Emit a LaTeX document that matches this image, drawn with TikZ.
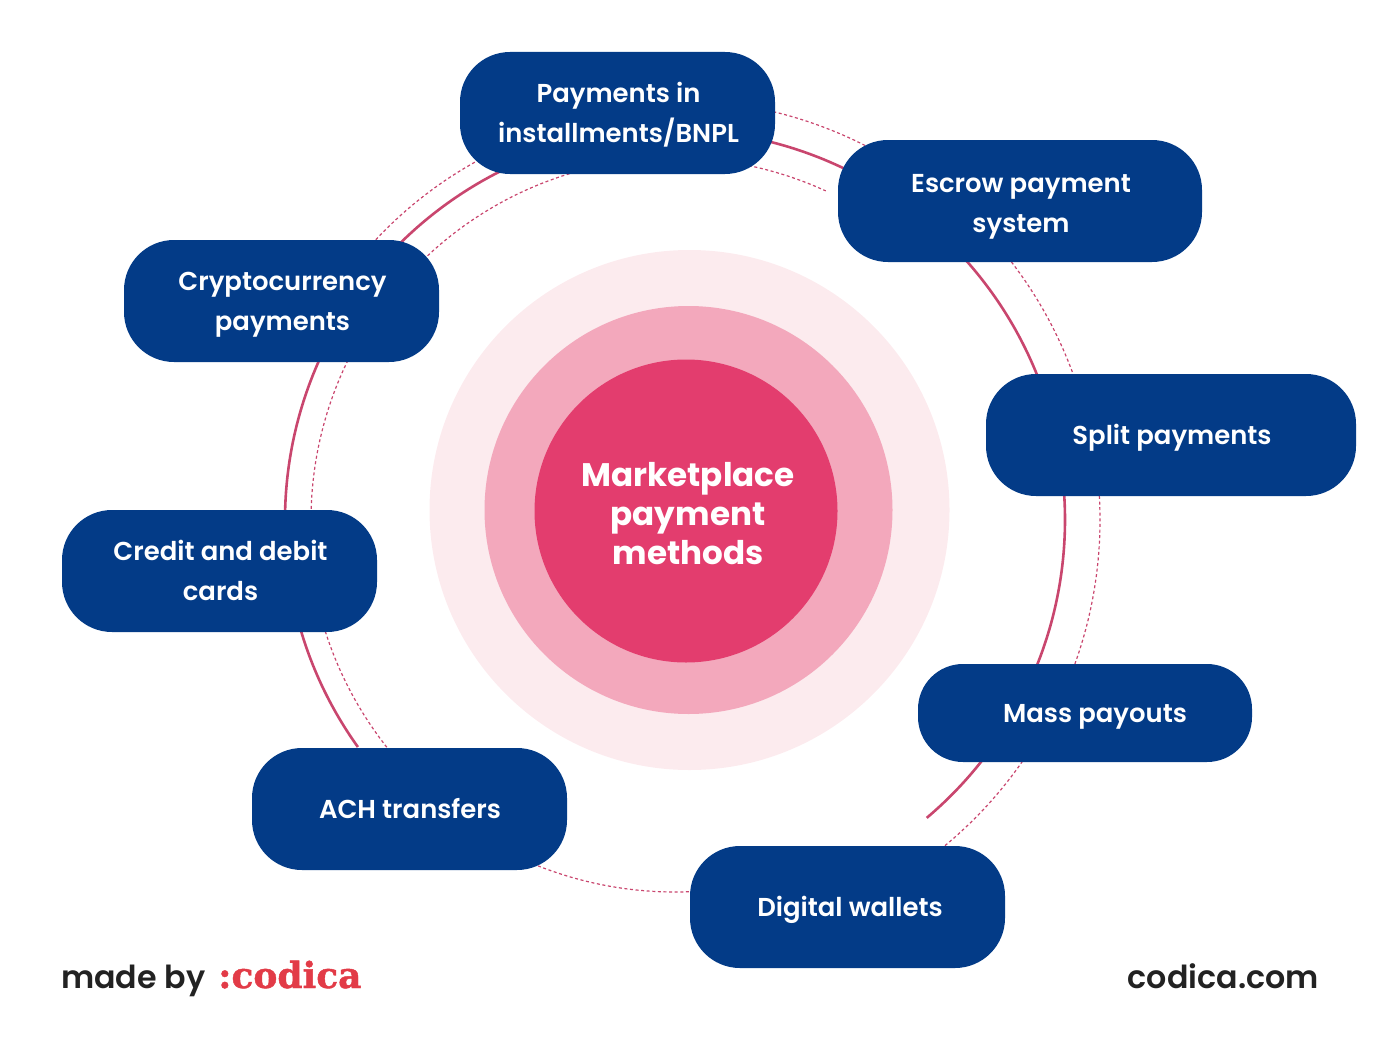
\documentclass[tikz,border=0pt]{standalone}
\usepackage{fontspec}
\setmainfont{Poppins}
\newfontfamily\fsemi{Poppins SemiBold}
\newfontfamily\fbold{Poppins Bold}
\newfontfamily\flogo[FakeBold=1.2]{DejaVu Serif Bold}
\definecolor{navy}{HTML}{033B87}
\definecolor{ringA}{HTML}{FCEBEE}
\definecolor{ringB}{HTML}{F3A8BC}
\definecolor{ringC}{HTML}{E33D6E}
\definecolor{arcline}{HTML}{C9466E}
\definecolor{inkdark}{HTML}{222222}
\definecolor{logored}{HTML}{E23B47}
\tikzset{
  box/.style={fill=navy,rounded corners=50pt,inner sep=0pt},
  boxtext/.style={text=white,align=center,inner sep=0pt,
    font=\fsemi\fontsize{25.9}{40}\selectfont},
  solidarc/.style={draw=arcline,line width=2.6pt},
  dotarc/.style={draw=arcline,line width=1.2pt,dash pattern=on 3pt off 2.6pt},
  foot/.style={inner sep=0pt,anchor=base west,font=\fsemi\fontsize{31.7}{33}\selectfont,text=inkdark},
  disc/.style={circle,inner sep=0pt},
}
\begin{document}
\begin{tikzpicture}[x=1pt,y=-1pt]
\useasboundingbox (0,0) rectangle (1380,1046);
\coordinate (c) at (675,520);
% arcs
\draw[solidarc] (c) ++(144.4:390) arc (144.4:409.8:390);
\foreach \a/\b/\r in {220/245/410, 282/299/420, 321/342/424, -4/21/425, 34/52/423,
    226/256/362, 280/294.6/362, 180/207/364, 140/164/367, 87/113/372}{
  \draw[dotarc] (c) ++(\a:\r) arc (\a:\b:\r);
}
% centre discs
\node[disc,fill=ringA,minimum size=520pt] (discA) at (689.5,510) {};
\node[disc,fill=ringB,minimum size=408pt] (discB) at (688.5,510) {};
\node[disc,fill=ringC,minimum size=303pt] (discC) at (686,511) {};
\node[text=white,align=center,inner sep=0pt,font=\fbold\fontsize{32.6}{39}\selectfont] (title) at (688,514) {Marketplace\\payment\\methods};
% boxes
\node[box,minimum width=315pt,minimum height=122pt] (pay) at (617.5,113) {};
\node[boxtext] (payt) at (618.5,115) {Payments in\\installments/BNPL};
\node[box,minimum width=364pt,minimum height=122pt] (esc) at (1020,201) {};
\node[boxtext] (esct) at (1021,207) {Escrow payment\\system};
\node[box,minimum width=315pt,minimum height=122pt] (cry) at (281.5,301) {};
\node[boxtext] (cryt) at (282.5,305) {Cryptocurrency\\payments};
\node[box,minimum width=370pt,minimum height=122pt] (spl) at (1171,435) {};
\node[boxtext] (splt) at (1172,438) {Split payments};
\node[box,minimum width=315pt,minimum height=122pt] (cre) at (219.5,571) {};
\node[boxtext] (cret) at (220.5,570) {Credit and debit\\cards};
\node[box,minimum width=334pt,minimum height=98pt,rounded corners=45pt] (mas) at (1085,713) {};
\node[boxtext] (mast) at (1095,717) {Mass payouts};
\node[box,minimum width=315pt,minimum height=122pt] (ach) at (409.5,809) {};
\node[boxtext] (acht) at (410,809) {ACH transfers};
\node[box,minimum width=315pt,minimum height=122pt] (dig) at (847.5,907) {};
\node[boxtext] (digt) at (850,910) {Digital wallets};
% footer
\node[foot] (made) at (61,988) {made by};
\node[foot,text=logored,font=\flogo\fontsize{36}{36}\selectfont] (logo) at (218,988) {:codica};
\node[foot,anchor=base east] (site) at (1319,988) {codica.com};
\end{tikzpicture}
\end{document}
